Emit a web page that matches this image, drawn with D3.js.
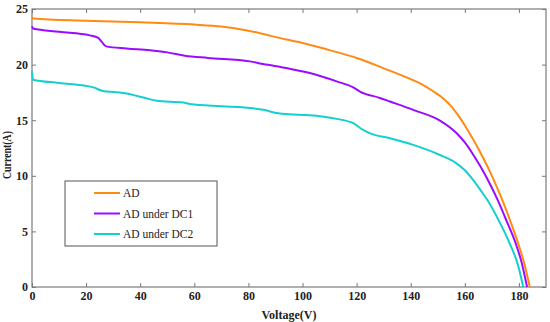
<!DOCTYPE html>
<html>
<head>
<meta charset="utf-8">
<script src="https://cdn.jsdelivr.net/npm/d3@7"></script>
<style>
  body { margin: 0; background: #fff; }
  svg text { font-family: "Liberation Serif", "Times New Roman", "DejaVu Serif", serif !important; }
</style>
</head>
<body>
<div id="chart"></div>
<script>
// I-V curves: [voltage, current]
const adData = [
  [0, 24.3], [0.4, 24.15], [20, 23.95], [40, 23.8], [60, 23.6], [70, 23.42], [80, 23.05],
  [94, 22.25], [100, 21.95], [110, 21.3], [120, 20.6], [132, 19.48], [140, 18.7],
  [144, 18.25], [148, 17.65], [152, 16.95], [155, 16.25], [157.5, 15.45], [160.6, 14.3],
  [166.8, 11.6], [170, 10.0], [174.2, 7.6], [177, 5.8], [180, 3.7], [182, 2.1], [184, 0]
];
const dc1Data = [
  [0, 23.45], [0.4, 23.24], [10, 22.95], [21.4, 22.63], [24.5, 22.4], [25.8, 22.04],
  [27.4, 21.64], [35, 21.45], [43.6, 21.28], [50, 21.1], [56.5, 20.8], [65, 20.6],
  [80.6, 20.29], [85.5, 20.05], [94.1, 19.69], [102.7, 19.24], [112.6, 18.49],
  [118.7, 17.95], [121.2, 17.58], [128.6, 17.0], [132.3, 16.68], [140.9, 15.93],
  [150.8, 14.97], [156.9, 13.85], [160, 13.0], [163.1, 11.9], [166, 10.75], [169, 9.4],
  [172, 7.9], [175.5, 5.9], [178.9, 3.85], [181, 2.2], [183, 0]
];
const dc2Data = [
  [0, 19.39], [0.4, 18.64], [10, 18.35], [22.7, 17.95], [25.8, 17.65], [33.8, 17.44],
  [41.2, 17.04], [46.1, 16.74], [55.9, 16.6], [58.4, 16.45], [70, 16.25], [80.6, 16.09],
  [85.5, 15.93], [91, 15.63], [105.2, 15.39], [112.6, 15.12], [118.7, 14.73],
  [122.4, 14.13], [125.5, 13.77], [132.3, 13.38], [140.9, 12.78], [150.8, 11.87],
  [156.9, 11.12], [160, 10.5], [163.1, 9.62], [166, 8.65], [168.5, 7.75], [172.7, 5.9],
  [176.6, 3.91], [179.5, 2.1], [181.6, 0]
];
const seriesNames = ["AD", "AD under DC1", "AD under DC2"];
const seriesColors = ["#ff8a14", "#9a0cff", "#14cfd2"];
const xTicks = [0, 20, 40, 60, 80, 100, 120, 140, 160, 180];
const yTicks = [0, 5, 10, 15, 20, 25];

const width = 550, height = 322;
const margin = {top: 9, right: 4, bottom: 35, left: 32};
const innerW = width - margin.left - margin.right;
const innerH = height - margin.top - margin.bottom;
const serif = '"Liberation Serif", "Times New Roman", serif';

const svg = d3.select("#chart").append("svg")
    .attr("width", width)
    .attr("height", height)
    .attr("font-family", serif);

const g = svg.append("g")
    .attr("transform", `translate(${margin.left},${margin.top})`);

const x = d3.scaleLinear().domain([0, 190]).range([0, innerW]);
const y = d3.scaleLinear().domain([0, 25]).range([innerH, 0]);

const axisColor = "#7a7a7a";

// frame
g.append("rect")
    .attr("width", innerW)
    .attr("height", innerH)
    .attr("fill", "none")
    .attr("stroke", axisColor)
    .attr("stroke-width", 1.2);

function styleAxis(sel, labels) {
    sel.attr("font-family", serif);
    sel.select(".domain").remove();
    sel.selectAll(".tick line").attr("stroke", axisColor).attr("stroke-width", 1);
    sel.selectAll(".tick text")
        .attr("fill", labels ? "#222" : "none")
        .attr("font-size", 12)
        .attr("font-weight", "bold");
}

g.append("g")
    .attr("transform", `translate(0,${innerH})`)
    .call(d3.axisBottom(x).tickValues(xTicks).tickSizeInner(-4).tickPadding(4))
    .call(s => styleAxis(s, true));

g.append("g")
    .call(d3.axisTop(x).tickValues(xTicks).tickSizeInner(-4).tickFormat(""))
    .call(s => styleAxis(s, false));

g.append("g")
    .call(d3.axisLeft(y).tickValues(yTicks).tickSizeInner(-4).tickPadding(4))
    .call(s => styleAxis(s, true));

g.append("g")
    .attr("transform", `translate(${innerW},0)`)
    .call(d3.axisRight(y).tickValues(yTicks).tickSizeInner(-4).tickFormat(""))
    .call(s => styleAxis(s, false));

// curves
const line = d3.line()
    .x(d => x(d[0]))
    .y(d => y(d[1]))
    .curve(d3.curveMonotoneX);

[adData, dc1Data, dc2Data].forEach((data, i) => {
    g.append("path")
        .datum(data)
        .attr("fill", "none")
        .attr("stroke", seriesColors[i])
        .attr("stroke-width", 2)
        .attr("d", line);
});

// axis titles
svg.append("text")
    .attr("x", margin.left + x(95))
    .attr("y", 319)
    .attr("text-anchor", "middle")
    .attr("font-size", 12)
    .attr("font-weight", "bold")
    .attr("fill", "#222")
    .text("Voltage(V)");

svg.append("text")
    .attr("transform", "translate(11,155) rotate(-90)")
    .attr("text-anchor", "middle")
    .attr("font-size", 12)
    .attr("font-weight", "bold")
    .attr("fill", "#222")
    .attr("textLength", 48)
    .attr("lengthAdjust", "spacingAndGlyphs")
    .text("Current(A)");

// legend
const legend = svg.append("g")
    .attr("transform", "translate(65,181)");

legend.append("rect")
    .attr("width", 152)
    .attr("height", 65)
    .attr("fill", "#fff")
    .attr("stroke", "#555")
    .attr("stroke-width", 1);

seriesNames.forEach((name, i) => {
    const ly = 12 + i * 20.5;
    legend.append("line")
        .attr("x1", 29).attr("x2", 55)
        .attr("y1", ly).attr("y2", ly)
        .attr("stroke", seriesColors[i])
        .attr("stroke-width", 2);
    legend.append("text")
        .attr("x", 58)
        .attr("y", ly)
        .attr("dy", "0.35em")
        .attr("font-size", 11.5)
        .attr("fill", "#222")
        .text(name);
});
</script>
</body>
</html>
